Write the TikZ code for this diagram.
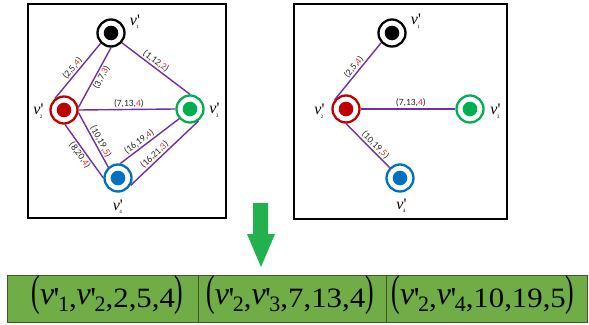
\documentclass[tikz,border=0pt]{standalone}
\usepackage{graphicx}
\usepackage{fontspec}
\setmainfont{Liberation Serif}[Ligatures=TeXOff]
\newfontfamily\lblfont{Carlito}
\definecolor{edgepurple}{HTML}{7030A0}
\definecolor{vred}{HTML}{C00000}
\definecolor{vgreen}{HTML}{00B050}
\definecolor{vblue}{HTML}{0070C0}
\definecolor{lblred}{HTML}{E8302A}
\definecolor{lblgray}{HTML}{262626}
\definecolor{cellgreen}{HTML}{70AD47}
\definecolor{cellline}{HTML}{3F5530}
\definecolor{arrowgreen}{HTML}{22B14C}
\newcommand{\el}[3]{(#1,#2,\textcolor{lblred}{#3})}
% graph vertex label: italic v, prime, tiny subscript
\newcommand{\glab}[1]{\textit{v}\rlap{\smash{'}}\rlap{\smash{\hspace{-0.6pt}\raisebox{-3.8pt}{\fontsize{5}{5}\selectfont #1}}}}
% bottom tuple pieces
\newcommand{\bparen}[1]{\raisebox{1.5pt}{\fontsize{32}{32}\selectfont\scalebox{0.8}[1.35]{#1}}}
\newcommand{\bnum}[1]{\scalebox{1.1}[1]{#1}}
\newcommand{\bv}[1]{\raisebox{3pt}{\fontsize{32}{32}\selectfont\textit{v}\kern-0.5pt\raisebox{-5pt}{'}\kern-1.5pt}\raisebox{-4.7pt}{\fontsize{22}{22}\selectfont #1}}
\tikzset{
  vtx/.style={circle, draw=#1, line width=2.3pt, minimum size=27pt, inner sep=0pt, fill=white,
    path picture={\fill[#1] (path picture bounding box.center) circle (7.3pt);}},
  edge/.style={draw=edgepurple, line width=1.4pt},
  elab/.style={sloped, inner sep=1pt, text=lblgray, font=\lblfont\fontsize{9.5}{9.5}\selectfont},
  glabel/.style={inner sep=0pt, anchor=base, font=\fontsize{16}{16}\selectfont},
  frame/.style={draw=black, line width=2.5pt},
  cell/.style={draw=cellline, line width=0.8pt, fill=cellgreen, minimum height=47pt, inner sep=0pt},
  celltext/.style={inner sep=0pt, anchor=base, font=\fontsize{28}{30}\selectfont}
}
\begin{document}
\begin{tikzpicture}[x=1pt,y=-1pt]
\useasboundingbox (0,0) rectangle (589,324);
% frames
\draw[frame] (28,4) rectangle (226,218);
\draw[frame] (294,4) rectangle (507,219);
% left graph
\node[vtx=black] (a1) at (111,33) {};
\node[vtx=vred] (a2) at (64,110) {};
\node[vtx=vgreen] (a3) at (190,109) {};
\node[vtx=vblue] (a4) at (118,178) {};
\draw[edge] (a2.129) -- node[elab, above, pos=0.48] {\el{2}{5}{4}} (a1.225);
\draw[edge] (a2.10) -- node[elab, below, pos=0.55] {\el{3}{7}{3}} (a1.270);
\draw[edge] (a1.-42) -- node[elab, above, pos=0.45] {\el{1}{12}{2}} (a3.90);
\draw[edge] (a2.east) -- node[elab, above, pos=0.52] {\el{7}{13}{4}} (a3.west);
\draw[edge] (a2.-10) -- node[elab, above, pos=0.58] {\el{10}{19}{5}} (a4.132);
\draw[edge] (a2.274) -- node[elab, below, pos=0.51] {\el{8}{20}{4}} (a4.180);
\draw[edge] (a4.81) -- node[elab, above, pos=0.38] {\el{16}{19}{4}} (a3.222);
\draw[edge] (a4.-30) -- node[elab, above, pos=0.41] {\el{16}{21}{3}} (a3.-54);
\node[glabel] (la1) at (133.5,25) {\glab{1}};
\node[glabel] (la2) at (37,114.5) {\glab{2}};
\node[glabel] (la3) at (213,113.5) {\glab{3}};
\node[glabel] (la4) at (116.3,210) {\glab{4}};
% right graph
\node[vtx=black] (b1) at (392,33) {};
\node[vtx=vred] (b2) at (346,109) {};
\node[vtx=vgreen] (b3) at (470,109) {};
\node[vtx=vblue] (b4) at (400,178) {};
\draw[edge] (b2.141) -- node[elab, above, pos=0.51] {\el{2}{5}{4}} (b1.222);
\draw[edge] (b2.east) -- node[elab, above, pos=0.53] {\el{7}{13}{4}} (b3.west);
\draw[edge] (b2.270) -- node[elab, above, pos=0.58] {\el{10}{19}{5}} (b4.135);
\node[glabel] (lb1) at (414.5,24.5) {\glab{1}};
\node[glabel] (lb2) at (318,114.5) {\glab{2}};
\node[glabel] (lb3) at (494,114.5) {\glab{3}};
\node[glabel] (lb4) at (400,209) {\glab{4}};
% arrow
\fill[arrowgreen] (253,203) -- (268,203) -- (268,234) -- (275,234) -- (261,267) -- (247,234) -- (253,234) -- cycle;
% cells
\node[cell, minimum width=191pt] (c1) at (102.5,298.5) {};
\node[cell, minimum width=188pt] (c2) at (292,298.5) {};
\node[cell, minimum width=201pt] (c3) at (486.5,298.5) {};
\node[celltext] (t1) at (107.5,307) {\bparen{(}\bv{1}\bnum{,}\bv{2}\bnum{,2,5,4}\bparen{)}};
\node[celltext] (t2) at (290,307) {\bparen{(}\bv{2}\bnum{,}\bv{3}\bnum{,7,13,4}\bparen{)}};
\node[celltext] (t3) at (483,307) {\bparen{(}\bv{2}\bnum{,}\bv{4}\bnum{,10,19,5}\bparen{)}};
\end{tikzpicture}
\end{document}
